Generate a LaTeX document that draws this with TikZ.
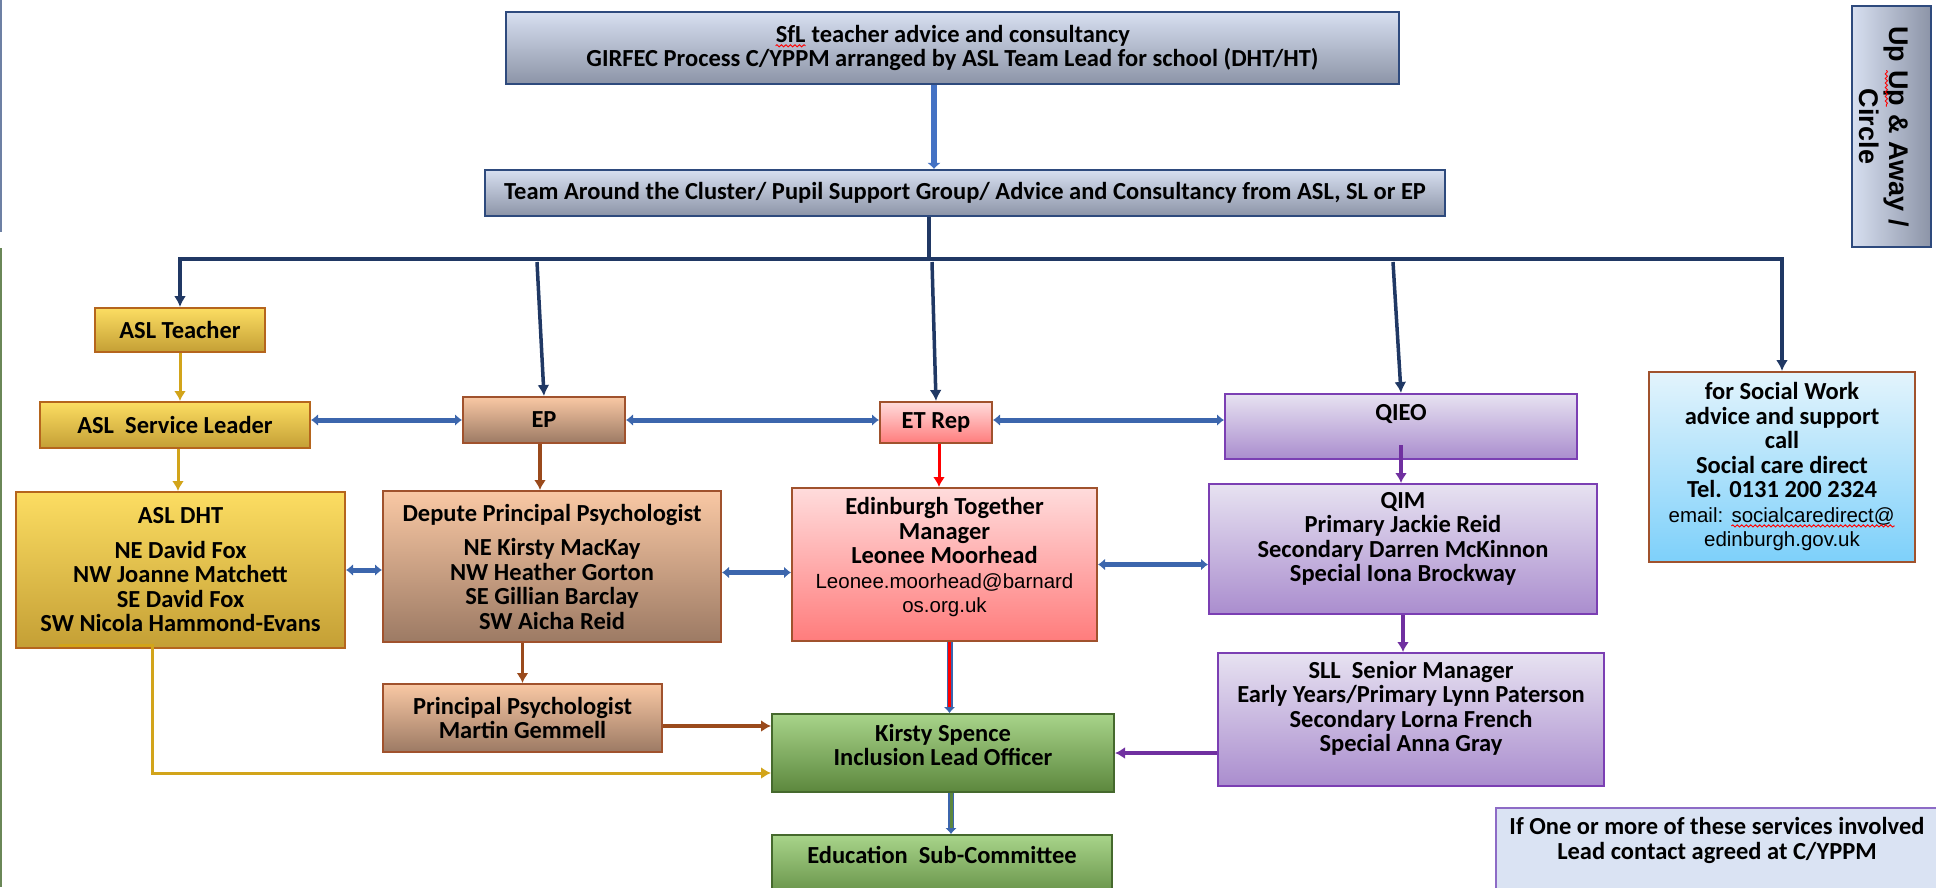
\documentclass[tikz,border=0pt]{standalone}
\usepackage{fontspec}
\setmainfont{Carlito}
\newfontfamily\arialfont{Liberation Sans}
\usetikzlibrary{arrows.meta,positioning,decorations.pathmorphing}

\definecolor{navy}{HTML}{203864}
\definecolor{linkblue}{HTML}{3C66AD}
\definecolor{midblue}{HTML}{4472C4}
\definecolor{steeltop}{HTML}{D7DFF0}
\definecolor{steelbot}{HTML}{8C94A7}
\definecolor{steeledge}{HTML}{2E4A7D}
\definecolor{goldtop}{HTML}{FCDD62}
\definecolor{goldbot}{HTML}{C49F35}
\definecolor{goldedge}{HTML}{B5651D}
\definecolor{goldline}{HTML}{D2A41A}
\definecolor{peachtop}{HTML}{F9C8A4}
\definecolor{peachbot}{HTML}{9C7A64}
\definecolor{brownedge}{HTML}{A0522D}
\definecolor{brownline}{HTML}{9A4A1C}
\definecolor{pinktop}{HTML}{FFDCDC}
\definecolor{pinkbot}{HTML}{FF7C7C}
\definecolor{lavtop}{HTML}{E7E2F1}
\definecolor{lavbot}{HTML}{AA8DCE}
\definecolor{lavedge}{HTML}{7B3FB3}
\definecolor{purpline}{HTML}{7030A0}
\definecolor{skytop}{HTML}{E3F4FC}
\definecolor{skybot}{HTML}{7DD0FA}
\definecolor{greentop}{HTML}{A8D48A}
\definecolor{greenbot}{HTML}{5C873D}
\definecolor{greenedge}{HTML}{45692D}
\definecolor{notefill}{HTML}{DAE3F3}
\definecolor{noteedge}{HTML}{8D6BC6}

% red spell-check squiggle under a word
\newcommand\typo[1]{\tikz[baseline=(typo.base),x=1cm,y=1cm]{%
  \node[inner sep=0pt,font=,minimum width=0pt,minimum height=0pt] (typo) {#1};
  \draw[red,line width=0.9pt,decorate,decoration={snake,amplitude=1.1pt,segment length=4.5pt}]
    ([yshift=-3.5pt]typo.base west) -- ([yshift=-3.5pt]typo.base east);}}
\newcommand\mailfont{\arialfont\mdseries\fontsize{20.5}{24}\selectfont}

\begin{document}
\begin{tikzpicture}[x=1pt,y=-1pt,
  font=\fontsize{24.5}{24.5}\selectfont\bfseries,
  every node/.style={align=center,inner sep=0pt},
  every label/.style={align=center,inner sep=0pt},
  wh/.style 2 args={minimum width=#1pt,minimum height=#2pt},
  steelbox/.style={draw=steeledge,line width=2.2pt,top color=steeltop,bottom color=steelbot},
  goldbox/.style={draw=goldedge,line width=2pt,top color=goldtop,bottom color=goldbot},
  peachbox/.style={draw=brownedge,line width=2pt,top color=peachtop,bottom color=peachbot},
  pinkbox/.style={draw=brownedge,line width=2pt,top color=pinktop,bottom color=pinkbot},
  lavbox/.style={draw=lavedge,line width=2pt,top color=lavtop,bottom color=lavbot},
  skybox/.style={draw=brownedge,line width=2pt,top color=skytop,bottom color=skybot},
  greenbox/.style={draw=greenedge,line width=2pt,top color=greentop,bottom color=greenbot},
  notebox/.style={draw=noteedge,line width=2pt,fill=notefill},
  bus/.style={navy,line width=3.5pt},
  busarrow/.style={bus,-{Latex[length=11pt,width=12pt]}},
  link/.style={linkblue,line width=5pt,{Latex[length=7pt,width=12pt]}-{Latex[length=7pt,width=12pt]}},
  goldarrow/.style={goldline,line width=3pt,-{Latex[length=10pt,width=12pt]}},
  brownarrow/.style={brownline,line width=3.5pt,-{Latex[length=10pt,width=12pt]}},
  purparrow/.style={purpline,line width=3.5pt,-{Latex[length=10pt,width=12pt]}},
  redarrow/.style={red,line width=3pt,-{Latex[length=10pt,width=12pt]}},
  hollow/.style={linkblue,line width=1.5pt,double distance=3pt,-{Latex[length=6pt,width=12pt]}}]
\useasboundingbox (0,0) rectangle (1936,887);

% edges of the neighbouring page
\draw[steeledge!70,line width=2pt] (1,0) -- (1,232);
\draw[greenedge!80,line width=2pt] (1,248) -- (1,887);

% top of the process
\node[steelbox,wh={893}{72}] (sfl) at (952.5,48) {\typo{SfL} teacher advice and consultancy\\GIRFEC Process C/YPPM arranged by ASL Team Lead for school (DHT/HT)};
\node[steelbox,wh={960}{46}] (tac) at (965,193) {Team Around the Cluster/ Pupil Support Group/ Advice and Consultancy from ASL, SL or EP};
\node[steelbox,wh={241}{79},rotate=-90,left color=steeltop,right color=steelbot] (upaway) at (1891.5,126.5) {};
\node[rotate=-90,font=\arialfont\bfseries\fontsize{27}{30}\selectfont] (upaway-t) at ([xshift=-7pt]upaway.center) {Up \typo{Up} \& Away /\\Circle};

% services
\node[goldbox,wh={170}{44}] (aslt) at (180,330) {ASL Teacher};
\node[goldbox,wh={270}{46}] (aslsl) at (175,425) {ASL~~Service Leader};
\node[peachbox,wh={162}{46}] (ep) at (544,420) {EP};
\node[pinkbox,wh={112}{41}] (etrep) at (936,422.5) {ET Rep};
\node[lavbox,wh={352}{65},label={[name=qieo-t,yshift=13pt]center:QIEO}] (qieo) at (1401,426.5) {};
\node[skybox,wh={266}{190}] (sw) at (1782,467) {for Social Work\\advice and support\\call\\Social care direct\\Tel. 0131 200 2324\\{\mailfont email: \typo{socialcaredirect@}}\\{\mailfont edinburgh.gov.uk}};

% named contacts
\node[goldbox,wh={329}{156}] (asldht) at (180.5,570) {ASL DHT\\[10pt]NE David Fox\\NW Joanne Matchett\\SE David Fox\\SW Nicola Hammond-Evans};
\node[peachbox,wh={338}{151}] (dpp) at (552,566.5) {Depute Principal Psychologist\\[10pt]NE Kirsty MacKay\\NW Heather Gorton\\SE Gillian Barclay\\SW Aicha Reid};
\node[pinkbox,wh={305}{153},label={[name=edin-t,yshift=7pt]center:Edinburgh Together\\Manager\\Leonee Moorhead\\{\mailfont Leonee.moorhead@barnard}\\{\mailfont os.org.uk}}] (edin) at (944.5,564.5) {};
\node[lavbox,wh={388}{130},label={[name=qim-t,yshift=10pt]center:QIM\\Primary Jackie Reid\\Secondary Darren McKinnon\\Special Iona Brockway}] (qim) at (1403,549) {};
\node[lavbox,wh={386}{133},label={[name=sll-t,yshift=11pt]center:SLL~~Senior Manager\\Early Years/Primary Lynn Paterson\\Secondary Lorna French\\Special Anna Gray}] (sll) at (1411,719.5) {};
\node[peachbox,wh={279}{68}] (pp) at (522.5,718) {Principal Psychologist\\Martin Gemmell};

% inclusion lead and committee
\node[greenbox,wh={342}{78},label={[name=ilo-t,yshift=8pt]center:Kirsty Spence\\Inclusion Lead Officer}] (ilo) at (943,753) {};
\node[greenbox,wh={340}{70},label={[name=esc-t,yshift=15pt]center:Education~~Sub-Committee}] (esc) at (942,870) {};
\node[notebox,wh={442}{97},label={[name=note-t,yshift=16pt]center:If One or more of these services involved\\Lead contact agreed at C/YPPM}] (note) at (1717,856.5) {};

% referral route
\coordinate (stem) at (929,259);
\coordinate (b-ep) at (537,262);
\coordinate (b-et) at (932,262);
\coordinate (b-qi) at (1393,262);
\draw[midblue,line width=6.5pt,-{Latex[length=6pt,width=14pt]}] ([xshift=-18.5pt]sfl.south) -- ([xshift=-18.5pt]sfl.south |- tac.north);
\draw[bus] ([xshift=-36pt]tac.south) -- (stem);
\draw[busarrow] (stem) -| (aslt.north);
\draw[busarrow] (stem) -| (sw.north);
\draw[busarrow] (b-ep) -- (ep.north);
\draw[busarrow] (b-et) -- (etrep.north);
\draw[busarrow] (b-qi) -- (qieo.north);

% two-way links
\draw[link] (ep.west -| aslsl.east) -- (ep.west);
\draw[link] (ep.east) -- (ep.east -| etrep.west);
\draw[link] (ep.east -| etrep.east) -- (ep.east -| qieo.west);
\draw[link] (asldht.east) -- (asldht.east -| dpp.west);
\draw[link] ([yshift=-6pt]dpp.east) -- ([yshift=-6pt]dpp.east -| edin.west);
\draw[link] (edin.east) -- (edin.east -| qim.west);

% line management
\draw[goldarrow] (aslt.south) -- (aslt.south |- aslsl.north);
\draw[goldarrow] ([xshift=3pt]aslsl.south) -- ([xshift=3pt]aslsl.south |- asldht.north);
\draw[brownarrow] ([xshift=-4pt]ep.south) -- ([xshift=-4pt]ep.south |- dpp.north);
\draw[brownarrow] (pp.north |- dpp.south) -- (pp.north);
\draw[redarrow] ([xshift=3pt]etrep.south) -- ([xshift=3pt]etrep.south |- edin.north);
\draw[purparrow] ([yshift=15pt]qieo.south) -- (qieo.south |- qim.north);
\draw[purparrow] (qim.south) -- (qim.south |- sll.north);
\draw[purparrow] (sll.west |- ilo.east) -- (ilo.east);
\draw[brownarrow] ([yshift=-8pt]pp.east) -- ([yshift=-8pt]pp.east -| ilo.west);
\draw[goldarrow] ([shift={(44pt,4pt)}]asldht.south west) -- ++(93pt,0pt) |- ([yshift=-20pt]ilo.west);
\draw[hollow,double=red] ([xshift=5pt]edin.south) -- ([xshift=5pt]edin.south |- ilo.north);
\draw[hollow,double=greenbot] ([xshift=8pt]ilo.south) -- ([xshift=8pt]ilo.south |- esc.north);
\end{tikzpicture}
\end{document}
